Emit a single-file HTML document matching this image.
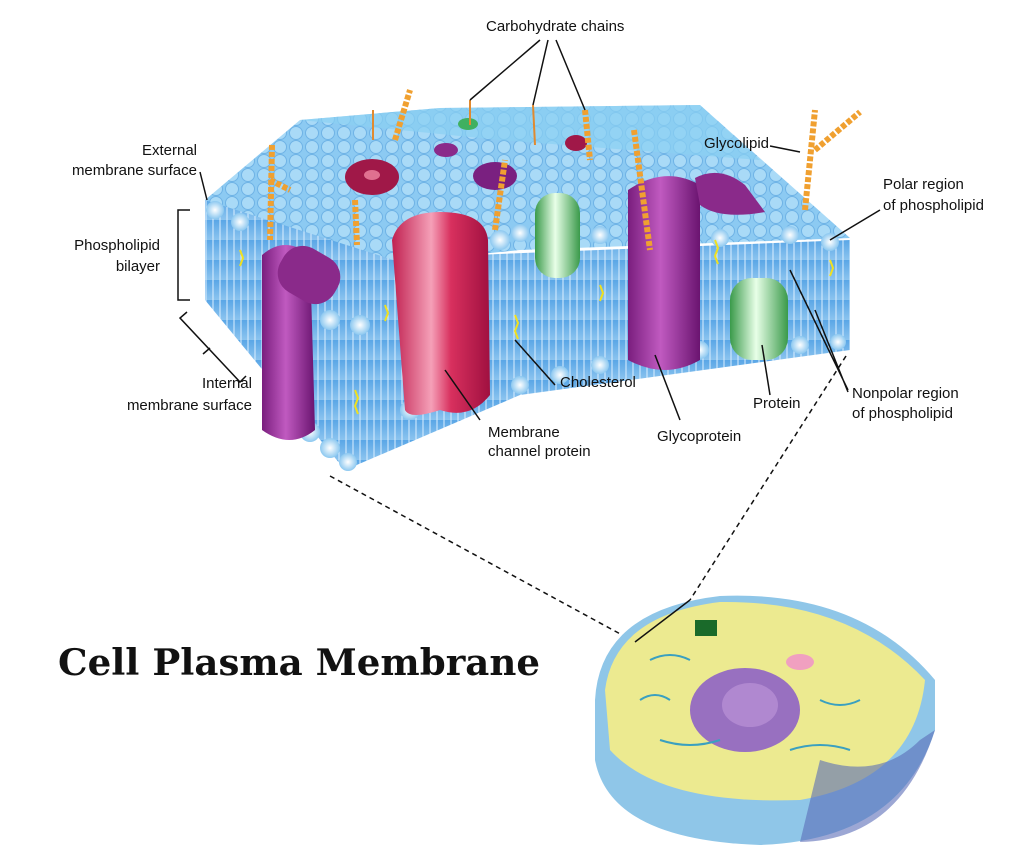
<!DOCTYPE html>
<html><head><meta charset="utf-8"><style>
html,body{margin:0;padding:0;background:#fff;}
svg{display:block}
text{font-family:"Liberation Sans",sans-serif;font-size:15px;fill:#111}
</style></head><body>
<svg width="1030" height="864" viewBox="0 0 1030 864" xmlns="http://www.w3.org/2000/svg">
<defs>
<linearGradient id="side" x1="0" y1="0" x2="0" y2="1">
<stop offset="0" stop-color="#5aa6e6"/><stop offset="1" stop-color="#8cc4ef"/></linearGradient>
<pattern id="stripes" width="7" height="20" patternUnits="userSpaceOnUse">
<rect width="7" height="20" fill="url(#side)"/><line x1="3" y1="0" x2="3" y2="20" stroke="#dcefff" stroke-width="1"/></pattern>
<pattern id="bubbles" width="16" height="14" patternUnits="userSpaceOnUse">
<rect width="16" height="14" fill="#8ccaf2"/><circle cx="8" cy="7" r="6.5" fill="#a9daf7" stroke="#6fb3e6" stroke-width="1"/></pattern>
<linearGradient id="purp" x1="0" x2="1"><stop offset="0" stop-color="#7a1e7e"/><stop offset=".45" stop-color="#c05ac0"/><stop offset="1" stop-color="#6a1470"/></linearGradient>
<linearGradient id="pink" x1="0" x2="1"><stop offset="0" stop-color="#c02050"/><stop offset=".4" stop-color="#f5a0b8"/><stop offset=".6" stop-color="#d8305e"/><stop offset="1" stop-color="#a01040"/></linearGradient>
<linearGradient id="green" x1="0" x2="1"><stop offset="0" stop-color="#3a9a4a"/><stop offset=".45" stop-color="#e8ffe8"/><stop offset="1" stop-color="#3a9a4a"/></linearGradient>
<radialGradient id="ball"><stop offset="0" stop-color="#fff"/><stop offset="1" stop-color="#8cc8f0"/></radialGradient>
</defs>
<!-- side face -->
<polygon points="205,200 400,258 850,240 850,350 520,395 345,470 205,300" fill="url(#stripes)"/>
<!-- top face -->
<polygon points="205,200 300,120 440,108 700,105 850,238 520,250 400,262" fill="url(#bubbles)"/>
<polygon points="300,120 440,108 700,105 760,160 500,140" fill="#8ad0f2" opacity=".7"/>
<!-- bottom bubble rows -->
<g fill="url(#ball)">
<circle cx="310" cy="432" r="10"/><circle cx="330" cy="448" r="10"/><circle cx="348" cy="462" r="9"/>
<circle cx="410" cy="410" r="10"/><circle cx="520" cy="385" r="9"/><circle cx="560" cy="375" r="9"/><circle cx="600" cy="365" r="9"/>
<circle cx="640" cy="340" r="11"/><circle cx="700" cy="350" r="9"/><circle cx="740" cy="330" r="9"/><circle cx="800" cy="345" r="9"/><circle cx="838" cy="342" r="8"/>
<circle cx="330" cy="320" r="10"/><circle cx="360" cy="325" r="10"/><circle cx="500" cy="240" r="10"/><circle cx="520" cy="233" r="9"/><circle cx="600" cy="235" r="9"/><circle cx="720" cy="238" r="9"/><circle cx="790" cy="235" r="9"/><circle cx="830" cy="242" r="9"/><circle cx="215" cy="210" r="9"/><circle cx="240" cy="222" r="9"/>
</g>
<!-- proteins -->
<path d="M262,255 Q285,235 310,255 L315,430 Q290,450 262,430Z" fill="url(#purp)"/>
<rect x="278" y="250" width="62" height="50" rx="22" fill="#8a2a8a" transform="rotate(30 309 275)"/>
<path d="M392,240 Q400,212 440,212 Q485,212 488,240 L490,395 Q470,420 440,410 Q410,420 405,410 Z" fill="url(#pink)"/>
<rect x="535" y="193" width="45" height="85" rx="20" fill="url(#green)"/>
<path d="M628,190 Q665,165 700,185 L700,360 Q665,380 628,360Z" fill="url(#purp)"/>
<path d="M695,178 Q720,165 745,185 L765,212 Q720,220 700,205Z" fill="#8a2a8a"/>
<rect x="730" y="278" width="58" height="82" rx="22" fill="url(#green)"/>
<ellipse cx="372" cy="177" rx="27" ry="18" fill="#a01848"/><ellipse cx="372" cy="175" rx="8" ry="5" fill="#e07090"/>
<ellipse cx="495" cy="176" rx="22" ry="14" fill="#7a2080"/>
<ellipse cx="446" cy="150" rx="12" ry="7" fill="#8a2a8a"/><ellipse cx="576" cy="143" rx="11" ry="8" fill="#a01848"/>
<ellipse cx="468" cy="124" rx="10" ry="6" fill="#40b060"/>
<!-- carbohydrate chains -->
<g stroke="#f0a030" stroke-width="6" fill="none" stroke-dasharray="5 2">
<path d="M272,145 L270,240"/><path d="M270,180 L290,190"/><path d="M355,200 L357,245"/>
<path d="M395,140 L410,90"/><path d="M495,230 L505,160"/><path d="M634,130 L650,250"/>
<path d="M805,210 L815,110"/><path d="M815,150 L860,112"/><path d="M585,110 L590,160"/>
</g>
<g stroke="#e08a30" stroke-width="2" fill="none"><path d="M533,105 L535,145"/><path d="M470,100 L470,125"/><path d="M373,110 L373,140"/></g>
<!-- cholesterol squiggles -->
<g stroke="#f0e020" stroke-width="2" fill="none"><path d="M240,250 l3,8 -3,8"/><path d="M515,315 l3,8 -3,8 3,8"/><path d="M600,285 l3,8 -3,8"/><path d="M715,240 l3,8 -3,8 3,8"/><path d="M830,260 l3,8 -3,8"/><path d="M385,305 l3,8 -3,8"/><path d="M355,390 l3,8 -3,8 3,8"/></g>
<!-- leader lines -->
<g stroke="#111" stroke-width="1.5" fill="none">
<path d="M540,40 L470,100 M548,40 L533,105 M556,40 L585,110"/>
<path d="M200,172 L207,200"/>
<path d="M190,210 L178,210 L178,300 L190,300"/>
<path d="M187,312 L180,318 L240,382 L246,376 M210,348 L203,354"/>
<path d="M480,420 L445,370"/>
<path d="M555,385 L515,340"/>
<path d="M680,420 L655,355"/>
<path d="M770,395 L762,345"/>
<path d="M848,390 L790,270 M848,392 L815,310"/>
<path d="M880,210 L830,240"/>
<path d="M770,146 L800,152"/>
</g>
<g stroke="#111" stroke-width="1.5" stroke-dasharray="5 4" fill="none">
<path d="M330,476 L635,642"/><path d="M846,356 L690,600"/></g>
<!-- labels -->
<text x="486" y="31">Carbohydrate chains</text>
<text x="197" y="155" text-anchor="end">External</text>
<text x="197" y="175" text-anchor="end">membrane surface</text>
<text x="160" y="250" text-anchor="end">Phospholipid</text>
<text x="160" y="271" text-anchor="end">bilayer</text>
<text x="252" y="388" text-anchor="end">Internal</text>
<text x="252" y="410" text-anchor="end">membrane surface</text>
<text x="488" y="437">Membrane</text>
<text x="488" y="456">channel protein</text>
<text x="560" y="387">Cholesterol</text>
<text x="657" y="441">Glycoprotein</text>
<text x="753" y="408">Protein</text>
<text x="852" y="398">Nonpolar region</text>
<text x="852" y="418">of phospholipid</text>
<text x="883" y="189">Polar region</text>
<text x="883" y="210">of phospholipid</text>
<text x="704" y="148">Glycolipid</text>
<text x="58" y="675" style="font-family:'DejaVu Serif',serif;font-weight:bold;font-size:36px" textLength="482" lengthAdjust="spacingAndGlyphs">Cell Plasma Membrane</text>
<!-- cell -->
<path d="M595,700 Q600,610 720,596 Q860,590 935,680 L935,730 Q900,840 760,845 Q610,840 595,760Z" fill="#8fc6e8"/>
<path d="M605,690 Q615,615 720,602 Q850,600 925,680 Q915,780 800,800 Q660,805 610,750Z" fill="#ecea90"/>
<ellipse cx="745" cy="710" rx="55" ry="42" fill="#9870c0"/>
<ellipse cx="750" cy="705" rx="28" ry="22" fill="#b088d0"/>
<ellipse cx="800" cy="662" rx="14" ry="8" fill="#f0a0c0"/>
<rect x="695" y="620" width="22" height="16" fill="#1a6a2a"/>
<g stroke="#3aa0c0" stroke-width="2" fill="none">
<path d="M650,660 q20,-10 40,0 M640,700 q15,-10 30,0 M660,740 q30,10 60,0 M820,700 q20,10 40,0 M790,750 q30,-10 60,0"/></g>
<path d="M820,760 Q880,780 920,740 L935,730 Q900,840 800,842Z" fill="#5a6cb8" opacity=".6"/>
<path d="M635,642 L690,600" stroke="#111" stroke-width="1.5"/>
</svg>
</body></html>
